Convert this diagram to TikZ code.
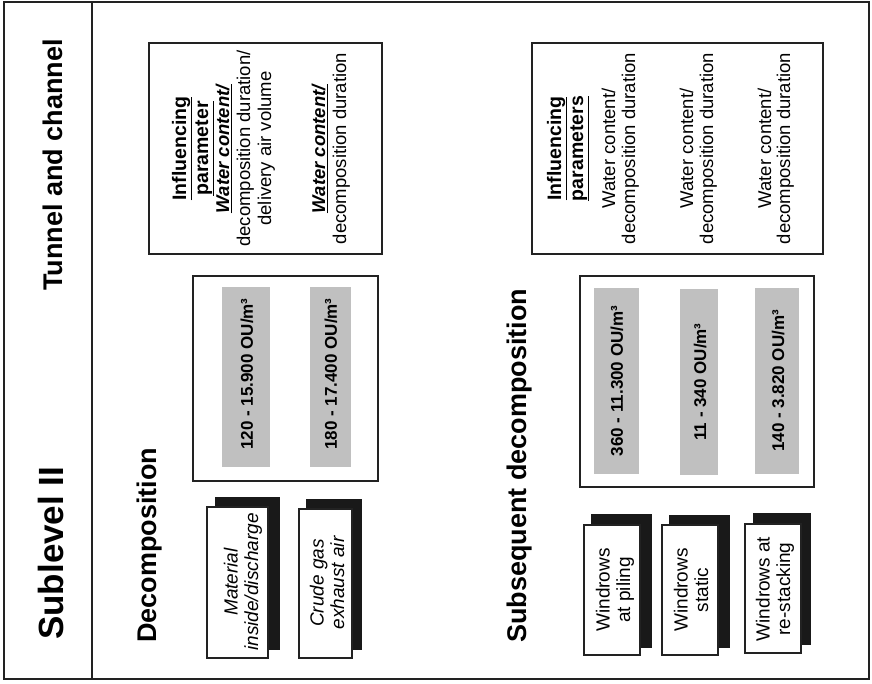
\documentclass[tikz,border=0pt]{standalone}
\usepackage{fontspec}
\setmainfont{Liberation Sans}
\definecolor{bargray}{HTML}{C0C0C0}
\definecolor{linegray}{HTML}{222222}
\begin{document}
\begin{tikzpicture}[x=1pt,y=-1pt,
  frame/.style={draw=linegray, line width=1.6pt},
  numbox/.style={draw=linegray, line width=1.8pt},
  bar/.style={fill=bargray},
  shadowrect/.style={fill=black!90},
  frontbox/.style={draw=linegray, fill=white, line width=1.3pt},
  vt/.style={rotate=90, inner sep=0pt},
  bigtitle/.style={vt, font=\fontsize{35}{40}\selectfont\bfseries},
  sectitle/.style={vt, font=\fontsize{27}{32}\selectfont\bfseries},
  head/.style={vt, anchor=base, font=\fontsize{19.5}{22}\selectfont\bfseries},
  plain/.style={vt, anchor=base, font=\fontsize{18.5}{21}\selectfont},
  val/.style={vt, font=\fontsize{17}{20}\selectfont\bfseries},
  lbl/.style={vt, align=center, font=\fontsize{19}{20.5}\selectfont}
]
\useasboundingbox (0,0) rectangle (872,684);
% frame
\draw[frame] (4,2) rectangle (869,679);
\draw[frame] (92,2) -- (92,679);
% titles
\node[bigtitle, anchor=base west] (sub) at (63,640) {Sublevel II};
\node[sectitle, anchor=base east] (tun) at (62,39) {Tunnel and channel};
\node[sectitle, anchor=base west] (dec) at (156,643) {Decomposition};
\node[sectitle, anchor=base west] (subdec) at (526,643) {Subsequent decomposition};
% influencing box A
\draw[numbox] (149,43) rectangle (382,254);
\node[head] (a1) at (186,148.5) {\underline{Influencing}};
\node[head] (a2) at (208,148.5) {\underline{parameter}};
\node[plain] (a3) at (229,148.5) {\underline{\textbf{\textit{Water content/}}}};
\node[plain] (a4) at (250,148.5) {decomposition duration/};
\node[plain] (a5) at (271,148.5) {delivery air volume};
\node[plain] (a6) at (325,148.5) {\underline{\textbf{\textit{Water content/}}}};
\node[plain] (a7) at (346,148.5) {decomposition duration};
% influencing box B
\draw[numbox] (532,43) rectangle (823,254);
\node[head] (b1) at (561,148.5) {\underline{Influencing}};
\node[head] (b2) at (583,148.5) {\underline{parameters}};
\node[plain] (b3) at (615,148.5) {Water content/};
\node[plain] (b4) at (635,148.5) {decomposition duration};
\node[plain] (b5) at (693,148.5) {Water content/};
\node[plain] (b6) at (713,148.5) {decomposition duration};
\node[plain] (b7) at (771,148.5) {Water content/};
\node[plain] (b8) at (790,148.5) {decomposition duration};
% value box section 1
\draw[numbox] (193,276) rectangle (378,481);
\fill[bar] (222,287) rectangle (270,467);
\fill[bar] (310,287) rectangle (351,467);
\node[val] (v1) at (247,374) {120 - 15.900 OU/m³};
\node[val] (v2) at (331,374) {180 - 17.400 OU/m³};
% value box section 2
\draw[numbox] (580,276) rectangle (814,487);
\fill[bar] (594,288) rectangle (639,474);
\fill[bar] (680,289) rectangle (718,475);
\fill[bar] (755,288) rectangle (799,474);
\node[val] (v3) at (617,381) {360 - 11.300 OU/m³};
\node[val] (v4) at (700,382) {11 - 340 OU/m³};
\node[val] (v5) at (778,381) {140 - 3.820 OU/m³};
% shadow boxes section 1
\fill[shadowrect] (215,497) rectangle (280,650);
\draw[frontbox] (207,507) rectangle (268,658);
\node[lbl] (m1) at (243,582) {\itshape Material\\\itshape inside/discharge};
\fill[shadowrect] (306,499) rectangle (362,650);
\draw[frontbox] (299,509) rectangle (352,658);
\node[lbl] (m2) at (327,583) {\itshape Crude gas\\\itshape exhaust air};
% shadow boxes section 2
\fill[shadowrect] (591,514) rectangle (652,648);
\draw[frontbox] (584,525) rectangle (640,655);
\node[lbl] (w1) at (615,590) {Windrows\\at piling};
\fill[shadowrect] (669,515) rectangle (730,648);
\draw[frontbox] (662,525) rectangle (718,655);
\node[lbl] (w2) at (691,590) {Windrows\\static};
\fill[shadowrect] (753,513) rectangle (811,645);
\draw[frontbox] (745,524) rectangle (801,653);
\node[lbl] (w3) at (775,589) {Windrows at\\re-stacking};
\end{tikzpicture}
\end{document}
